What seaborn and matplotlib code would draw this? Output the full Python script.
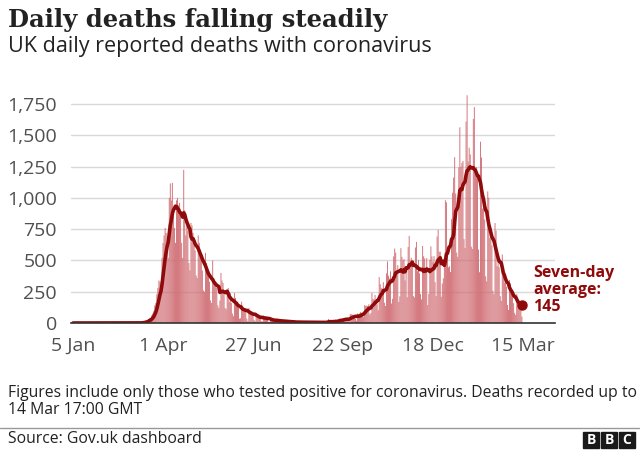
import numpy as np
import pandas as pd
import matplotlib
matplotlib.use("Agg")
import matplotlib.pyplot as plt
import seaborn as sns

#----------------------------------
# Data: UK daily reported deaths, 5 Jan 2020 - 14 Mar 2021
#----------------------------------
jan_2020 = [0, 0, 0, 0, 0, 0, 0, 0, 0, 0, 0, 0, 0, 0, 0, 0, 0, 0, 0, 0,
            0, 0, 0, 0, 0, 0, 0]  # from 5 Jan
feb_2020 = [0, 0, 0, 0, 0, 0, 0, 0, 0, 0, 0, 0, 0, 0, 0, 0, 0, 0, 0, 0,
            0, 0, 0, 0, 0, 0, 0, 0, 0]
mar_2020 = [0, 0, 0, 0, 1, 1, 0, 1, 2, 1, 2, 1, 8, 10, 14, 20, 16, 32, 40, 33,
            60, 75, 95, 140, 160, 230, 280, 340, 330, 300, 520]
apr_2020 = [640, 700, 760, 720, 660, 520, 1000, 1115, 980, 1120, 920, 760, 640, 980, 1000,
            940, 960, 880, 640, 520, 1224, 900, 700, 780, 740, 480, 420, 800, 780, 720]
may_2020 = [650, 580, 380, 360, 700, 640, 560, 520, 420, 260, 250, 560, 480, 400, 380,
            330, 180, 160, 500, 360, 330, 300, 280, 140, 120, 180, 400, 340, 320, 230, 120]
jun_2020 = [110, 260, 280, 170, 240, 160, 75, 55, 240, 200, 140, 140, 120, 35, 38,
            170, 140, 110, 120, 90, 35, 15, 120, 100, 80, 90, 60, 25, 15, 80]
jul_2020 = [60, 55, 50, 40, 15, 12, 60, 55, 45, 40, 30, 10, 8, 35, 30, 28,
            25, 20, 8, 6, 25, 22, 20, 18, 15, 5, 4, 18, 16, 14, 12]
aug_2020 = [10, 4, 3, 12, 10, 9, 8, 6, 2, 2, 11, 9, 8, 7, 6, 2,
            2, 10, 9, 8, 6, 5, 1, 1, 9, 8, 7, 6, 4, 1, 1]
sep_2020 = [3, 3, 12, 10, 6, 2, 3, 32, 8, 14, 6, 9, 5, 9, 27,
            20, 21, 27, 27, 18, 11, 37, 37, 40, 34, 34, 17, 13, 71, 71]
oct_2020 = [66, 66, 49, 33, 19, 76, 70, 77, 87, 81, 65, 50, 143, 137, 138, 136,
            150, 67, 80, 241, 191, 189, 224, 174, 151, 102, 367, 310, 280, 274, 326]
nov_2020 = [162, 136, 397, 492, 378, 355, 413, 156, 194, 532, 595, 563, 376, 462, 168,
            213, 598, 529, 501, 511, 341, 398, 206, 608, 696, 498, 521, 479, 215, 205]
dec_2020 = [603, 648, 414, 504, 397, 231, 189, 616, 533, 516, 424, 519, 144, 232, 506, 612,
            532, 489, 534, 326, 215, 691, 744, 570, 570, 210, 316, 357, 457, 981, 964]
jan_2021 = [613, 445, 454, 407, 830, 1041, 1162, 1325, 1035, 563, 529, 1243, 1564, 1248, 1280, 1295,
            671, 599, 1610, 1820, 1290, 1401, 1348, 610, 592, 1631, 1725, 1239, 1245, 1200, 587]
feb_2021 = [406, 1449, 1322, 915, 1014, 828, 373, 333, 1052, 1001, 678, 758, 621, 258,
            230, 799, 738, 454, 533, 445, 215, 178, 548, 442, 323, 345, 290, 144]
mar_2021 = [104, 343, 315, 242, 236, 158, 82, 65, 231, 190, 181, 175, 121, 52]  # to 14 Mar

tick_days = [0, 87, 174, 261, 348, 435]
tick_labels = ['5 Jan', '1 Apr', '27 Jun', '22 Sep', '18 Dec', '15 Mar']
y_ticks = [0, 250, 500, 750, 1000, 1250, 1500, 1750]

#----------------------------------
# Build frame + seven-day average
#----------------------------------
deaths = (jan_2020 + feb_2020 + mar_2020 + apr_2020 + may_2020 + jun_2020 + jul_2020
          + aug_2020 + sep_2020 + oct_2020 + nov_2020 + dec_2020 + jan_2021 + feb_2021 + mar_2021)
df = pd.DataFrame({'day': np.arange(len(deaths)), 'deaths': deaths})
df['avg'] = df['deaths'].rolling(7, min_periods=1).mean()

BAR = '#cf6a70'
LINE = '#8f0b0b'
TXT = '#222222'
GREY = '#505050'

#----------------------------------
# Plot
#----------------------------------
sns.set_style("white")
plt.rcParams['font.family'] = ['Open Sans', 'DejaVu Sans']

fig = plt.figure(figsize=(6.4, 4.5), dpi=100)
ax = fig.add_axes([71/640, 1 - 323/450, (555-71)/640, (323-91.5)/450])

sns.barplot(data=df, x='day', y='deaths', native_scale=True, width=0.85,
            color=BAR, saturation=1, edgecolor='none', linewidth=0, snap=False, ax=ax)
sns.lineplot(data=df, x='day', y='avg', color=LINE, linewidth=2.6, ax=ax)
last = df.iloc[-1]
ax.plot(last['day'], last['avg'], 'o', color=LINE, markersize=6.5, zorder=5)

ax.set_xlim(-2, 466)
ax.set_ylim(0, 1850)
ax.set_yticks(y_ticks)
ax.set_yticklabels([f'{v:,}' for v in y_ticks])
ax.set_xticks(tick_days)
ax.set_xticklabels(tick_labels)
ax.set_xlabel('')
ax.set_ylabel('')
ax.grid(axis='y', color='#d9d9d9', linewidth=1)
ax.set_axisbelow(True)
for s in ['top', 'right', 'left']:
    ax.spines[s].set_visible(False)
ax.spines['bottom'].set_color('#333333')
ax.spines['bottom'].set_linewidth(1.2)
ax.tick_params(axis='y', length=0, pad=10, labelsize=14, labelcolor=GREY)
ax.tick_params(axis='x', length=5, width=1, color='#333333', pad=5, labelsize=14, labelcolor=GREY)

ax.annotate('Seven-day\naverage:\n145', xy=(last['day'], last['avg']), xytext=(8, -7),
            textcoords='offset points', color=LINE, fontsize=11.5, fontweight='bold',
            va='bottom', ha='left', linespacing=1.05)

#----------------------------------
# Titles and footer
#----------------------------------
fig.text(8/640, 1 - 8/450, 'Daily deaths falling steadily', fontsize=17.5, fontweight='bold',
         family='DejaVu Serif', color=TXT, va='top')
fig.text(8/640, 1 - 36/450, 'UK daily reported deaths with coronavirus', fontsize=15.5,
         color=TXT, va='top')
fig.text(8/640, 1 - 385/450, 'Figures include only those who tested positive for coronavirus. Deaths recorded up to\n14 Mar 17:00 GMT',
         fontsize=11.3, color=TXT, va='top', linespacing=1.05)
fig.add_artist(plt.Line2D([0, 1], [1 - 428/450, 1 - 428/450], color='#999999', linewidth=1))
fig.text(8/640, 1 - 431/450, 'Source: Gov.uk dashboard', fontsize=11.3, color=TXT, va='top')
for i, ch in enumerate('BBC'):
    x0 = 583 + i * 18
    fig.patches.append(plt.Rectangle((x0/640, 1 - 448/450), 16/640, 16/450,
                                     transform=fig.transFigure, color='#1a1a1a'))
    fig.text((x0 + 8)/640, 1 - 440/450, ch, fontsize=10, fontweight='bold',
             color='white', ha='center', va='center')

fig.savefig('out.png', dpi=100)
